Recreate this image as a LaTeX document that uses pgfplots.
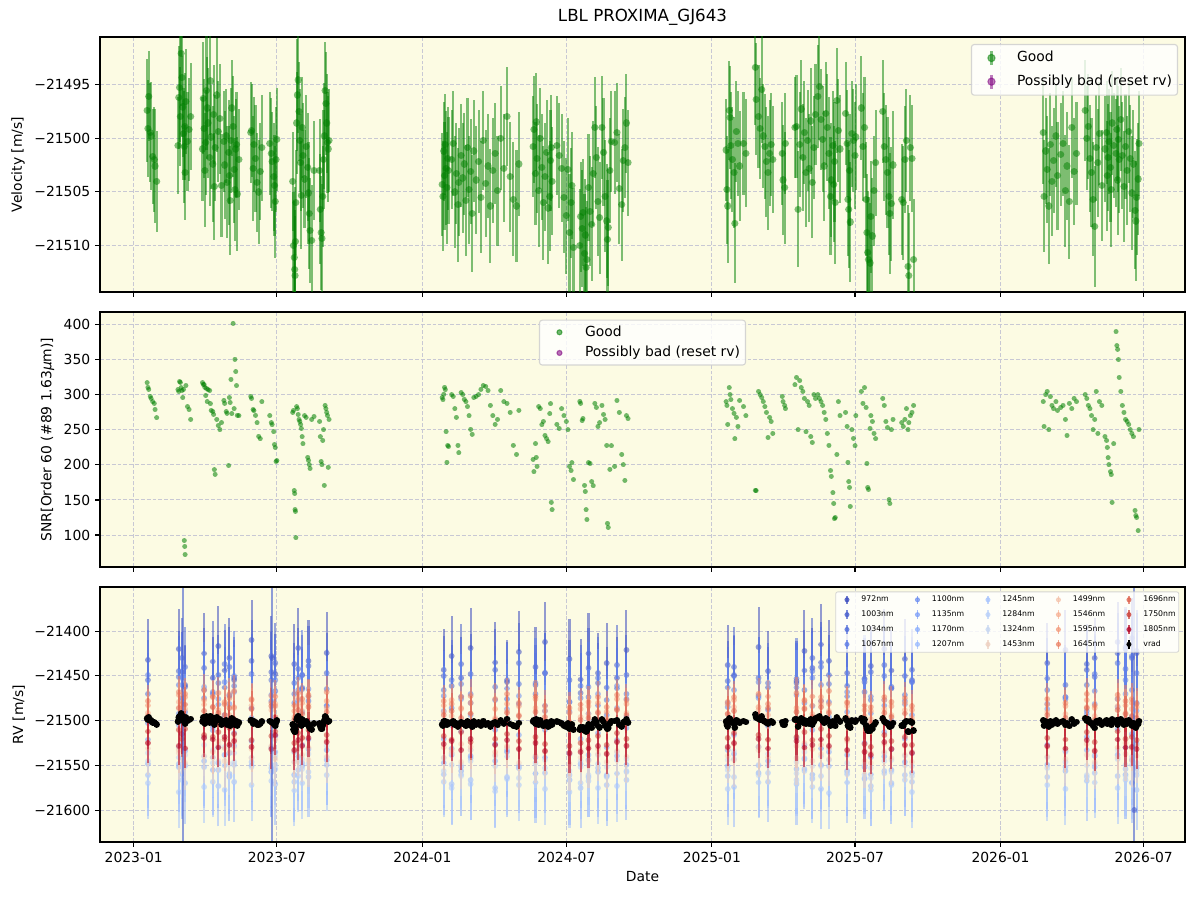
\documentclass[border=0pt]{standalone}
\usepackage{pgfplots}
\pgfplotsset{compat=1.18}
\usepackage{pgfplotstable}
\usepackage{fontspec}
\setmainfont{DejaVu Sans}

\definecolor{bgyel}{RGB}{252,251,227}
\definecolor{gridc}{RGB}{200,200,212}
\definecolor{good}{RGB}{0,128,0}
\definecolor{bad}{RGB}{128,0,128}
\definecolor{legframe}{RGB}{204,204,204}
% coolwarm, sampled by wavelength between 972 nm and 1805 nm
\definecolor{c972}{HTML}{3B4CC0}
\definecolor{c1003}{HTML}{465DCE}
\definecolor{c1034}{HTML}{516DDB}
\definecolor{c1067}{HTML}{5E7DE7}
\definecolor{c1100}{HTML}{6B8DF1}
\definecolor{c1135}{HTML}{7A9DF8}
\definecolor{c1170}{HTML}{89ACFD}
\definecolor{c1207}{HTML}{98B9FF}
\definecolor{c1245}{HTML}{A8C5FE}
\definecolor{c1284}{HTML}{B8D0F9}
\definecolor{c1324}{HTML}{C7D7F1}
\definecolor{c1453}{HTML}{EED0C0}
\definecolor{c1499}{HTML}{F5C2AA}
\definecolor{c1546}{HTML}{F7B093}
\definecolor{c1595}{HTML}{F49A7B}
\definecolor{c1645}{HTML}{EC8165}
\definecolor{c1696}{HTML}{DF634F}
\definecolor{c1750}{HTML}{CC4039}
\definecolor{c1805}{HTML}{B40426}

% light-weight round marker: a round-capped stroke of zero extent
\pgfdeclareplotmark{rdot}{%
  \pgfsetroundcap
  \pgfsetlinewidth{2\pgfplotmarksize}%
  \pgfpathmoveto{\pgfpointorigin}%
  \pgfpathlineto{\pgfpoint{0.01pt}{0pt}}%
  \pgfusepathqstroke}
% lower panel: 183.6pt tall for 284.6 m/s, so pt per m/s
\pgfmathsetmacro{\ppm}{183.6/284.6}
\def\ebh{0}
% dot with its symmetric error bar (half length \ebh pt) in one marker
\pgfdeclareplotmark{ebdot}{%
  \pgfsetbuttcap
  \pgfsetlinewidth{1.5pt}%
  \pgfpathmoveto{\pgfpoint{0pt}{-\ebh pt}}%
  \pgfpathlineto{\pgfpoint{0pt}{\ebh pt}}%
  \pgfusepathqstroke
  \pgfsetroundcap
  \pgfsetlinewidth{2\pgfplotmarksize}%
  \pgfpathmoveto{\pgfpointorigin}%
  \pgfpathlineto{\pgfpoint{0.01pt}{0pt}}%
  \pgfusepathqstroke}

% t = days since 2023-01-01; v = velocity [m/s]; e = uncertainty; snr = SNR of order 60
\pgfplotstableread{
t v e snr
17 -21497.4 4.8 317
18 -21499.1 4.5 311
19 -21496.1 4.2 308
21 -21499.5 4.6 298
22 -21499.8 5.0 295
24 -21501.7 4.4 290
26 -21502.0 4.9 288
27 -21502.6 5.3 279
29 -21504.0 4.7 267
56 -21500.7 4.5 307
57 -21496.2 4.8 305
58 -21495.3 5.1 319
59 -21498.0 4.6 318
60 -21492.1 4.9 310
61 -21494.4 5.5 306
62 -21497.1 4.7 296
63 -21499.6 4.3 308
64 -21500.8 5.2 92
64.5 -21498.9 5.0 84
65 -21503.2 4.4 72
66 -21496.6 4.9 313
68 -21500.3 4.6 283
70 -21499.2 4.8 279
72 -21498.0 5.0 265
87 -21501.0 4.8 317
88 -21496.3 5.2 315
89 -21499.1 4.6 314
90 -21503.0 5.3 311
91 -21500.4 4.9 299
92 -21495.6 5.5 309
93 -21497.2 4.7 290
94 -21498.6 5.1 307
96 -21501.8 4.5 306
97 -21494.7 5.0 287
98 -21499.9 4.8 278
100 -21502.4 5.4 276
101 -21497.8 4.6 272
102 -21504.5 5.0 193
103 -21500.9 4.9 187
105 -21496.0 5.3 265
107 -21499.4 4.7 256
109 -21498.2 5.1 250
111 -21504.4 4.8 260
114 -21500.3 4.7 292
115 -21502.5 5.0 288
117 -21499.8 4.4 276
118 -21504.1 5.2 274
120 -21501.3 4.8 199
121 -21503.5 4.6 296
122 -21505.8 5.1 289
123 -21500.2 4.9 322
124 -21497.2 4.5 273
125.7 -21498.9 4.7 402
127 -21502.9 5.0 280
128 -21504.8 4.8 351
129 -21501.0 4.6 333
130 -21500.6 4.9 313
131 -21505.2 5.3 271
133 -21502.0 4.7 270
148 -21499.5 4.7 298
149 -21499.3 4.3 295
151 -21502.8 4.9 279
152 -21500.6 4.4 277
154 -21501.9 5.0 271
156 -21504.1 4.6 260
158 -21505.0 4.8 241
160 -21503.1 4.5 237
162 -21500.9 4.9 290
172 -21500.5 4.8 270
174 -21501.4 5.1 260
175 -21502.2 4.6 257
177 -21503.6 5.0 247
178 -21504.4 4.7 229
179 -21505.9 5.2 225
180 -21502.0 4.9 205
181 -21500.1 4.8 206
201 -21504.0 4.6 275
202 -21510.0 5.0 278
203 -21511.1 5.3 163
203.5 -21512.2 5.5 159
204 -21512.8 5.6 136
204.5 -21509.6 5.1 134
205 -21506.0 4.9 96
206 -21498.6 4.7 283
207 -21496.0 5.2 280
208 -21494.6 4.9 272
209 -21497.5 4.6 265
210 -21500.2 4.8 262
211 -21502.3 4.5 258
212 -21505.3 5.0 252
213 -21499.0 4.7 240
214 -21501.6 4.9 230
216 -21503.8 4.6 270
218 -21500.8 4.8 268
220 -21502.7 5.0 211
221 -21505.1 4.7 207
222 -21507.0 5.2 200
223 -21508.6 4.9 195
225 -21509.5 5.1 265
228 -21503.0 4.6 269
235 -21503.0 4.8 262
236 -21506.6 5.1 240
237 -21508.8 5.3 205
238 -21509.3 5.0 200
239 -21505.4 4.7 235
240 -21502.0 4.6 250
241 -21499.8 4.9 171
242 -21495.6 4.5 285
243 -21496.8 4.8 280
244 -21498.6 4.6 275
245 -21500.4 4.7 270
246 -21501.0 4.9 197
247 -21500.2 4.8 265
390 -21504.3 4.8 296
391 -21505.4 5.1 293
392 -21501.2 4.6 301
393 -21503.5 5.0 311
394 -21500.6 4.7 307
395 -21502.8 5.3 247
396 -21504.6 5.2 204
397 -21501.9 4.8 228
398 -21503.0 5.0 226
402 -21502.0 4.6 300
404 -21500.5 4.9 298
406 -21505.0 5.2 280
408 -21503.3 4.7 268
410 -21506.2 5.3 228
411 -21504.1 5.0 217
414 -21501.6 4.8 303
416 -21503.7 5.1 300
418 -21502.4 4.7 294
420 -21505.8 5.2 290
422 -21500.9 4.6 283
424 -21504.8 5.0 270
426 -21503.1 4.9 251
428 -21507.0 5.4 244
430 -21501.2 4.7 296
433 -21503.9 5.0 298
436 -21502.2 4.8 300
439 -21505.5 5.2 308
442 -21500.2 4.6 313
445 -21504.2 5.0 312
448 -21502.6 4.8 306
451 -21506.3 5.3 285
454 -21503.0 4.9 270
457 -21501.4 4.7 258
460 -21504.9 5.1 265
464 -21500.0 4.8 306
468 -21502.8 5.0 290
472 -21498.0 4.6 288
476 -21503.6 5.1 275
480 -21505.7 5.3 228
484 -21506.3 5.2 215
487 -21502.4 4.8 278
505 -21500.8 4.7 208
506 -21499.2 5.0 190
508 -21503.3 4.8 230
509 -21498.5 4.6 211
510 -21501.9 5.1 198
512 -21504.9 5.2 283
514 -21500.0 4.7 280
516 -21502.7 4.9 257
518 -21506.0 5.3 262
520 -21503.6 5.0 242
522 -21501.3 4.8 237
524 -21506.5 5.2 233
526 -21505.4 5.1 273
527 -21502.1 4.7 287
528 -21500.9 4.9 147
529 -21504.0 5.0 136
535 -21500.7 4.6 258
538 -21501.6 4.9 252
541 -21502.8 5.0 280
544 -21505.5 5.2 270
547 -21507.2 5.4 262
549 -21502.9 4.8 250
551 -21508.8 5.5 198
553 -21506.0 5.1 192
554 -21504.4 5.0 203
556 -21510.2 5.6 179
564 -21510.0 5.3 291
565 -21507.3 5.1 288
567 -21508.4 5.4 263
568 -21506.9 5.0 266
570 -21510.7 5.5 171
571 -21509.0 5.2 162
572 -21512.0 5.6 136
573 -21511.3 5.5 122
575 -21504.6 5.0 203
577 -21506.8 5.1 202
579 -21508.0 5.3 176
581 -21503.3 4.9 170
583 -21499.0 4.7 288
585 -21501.8 4.8 282
587 -21505.9 5.1 255
589 -21507.4 5.2 260
592 -21499.0 4.8 285
594 -21501.3 5.0 272
596 -21505.4 5.2 265
598 -21507.7 5.3 228
599 -21509.4 5.5 117
600 -21508.3 5.4 111
602 -21503.0 4.9 194
604 -21500.3 4.7 227
608 -21500.4 4.8 198
611 -21499.5 4.6 292
614 -21504.7 5.1 275
617 -21506.2 5.2 215
619 -21502.1 4.8 200
621 -21500.9 4.7 178
623 -21498.6 4.6 270
625 -21502.3 4.9 266
749 -21501.1 4.7 290
750 -21504.8 5.0 285
751 -21506.3 5.3 258
753 -21497.4 4.6 310
754 -21498.1 4.8 300
755 -21500.7 5.0 293
757 -21502.0 4.9 280
759 -21503.2 5.2 274
760 -21507.9 5.6 237
762 -21499.4 4.7 268
764 -21500.5 4.9 255
766 -21502.6 5.1 292
771 -21500.5 4.8 283
774 -21501.4 5.0 270
786 -21493.4 5.4 164
787 -21496.4 5.2 163
790 -21498.0 4.8 305
792 -21499.1 4.7 300
794 -21495.5 5.0 296
796 -21499.8 4.8 290
798 -21500.8 4.9 283
800 -21502.2 5.1 275
802 -21503.2 5.3 239
804 -21501.4 4.9 268
806 -21500.6 4.8 262
808 -21502.0 5.0 245
820 -21501.4 4.8 298
821 -21503.9 5.1 290
823 -21504.6 5.2 285
824 -21500.5 4.7 280
836 -21499.0 4.7 314
838 -21498.9 4.8 325
840 -21506.6 5.4 250
842 -21500.6 4.9 320
844 -21497.3 4.6 310
846 -21501.8 5.0 305
848 -21499.5 4.8 295
850 -21503.2 5.1 247
852 -21500.2 4.7 290
854 -21502.8 5.0 285
856 -21498.4 4.9 240
858 -21504.1 5.2 232
860 -21500.9 4.8 300
862 -21497.8 4.7 295
865 -21496.1 4.8 300
867 -21495.2 5.0 295
869 -21498.3 4.7 290
871 -21500.1 4.9 285
873 -21502.6 5.1 275
875 -21497.7 4.8 265
877 -21499.0 5.0 245
879 -21501.4 5.2 228
881 -21505.4 5.5 192
882 -21503.9 5.3 184
884 -21500.7 5.1 160
885 -21504.3 5.4 145
886 -21502.2 5.6 123
887 -21506.0 5.7 125
889 -21496.5 4.9 215
891 -21499.3 4.8 290
893 -21501.0 5.0 270
900 -21497.7 4.8 275
902 -21500.5 5.0 255
903 -21505.7 5.3 204
904 -21506.6 5.5 176
905 -21503.0 5.2 168
906 -21507.8 5.6 141
908 -21499.6 4.9 250
910 -21500.2 4.8 238
912 -21501.6 5.0 227
913 -21499.9 4.9 270
920 -21497.2 4.8 305
922 -21500.8 5.0 288
924 -21499.0 4.7 310
926 -21505.7 5.3 282
927 -21508.8 5.5 202
928 -21510.6 5.7 168
929 -21511.3 5.8 165
931 -21511.6 5.6 252
932 -21507.3 5.2 270
934 -21509.1 5.4 262
936 -21504.9 5.1 245
938 -21502.3 4.9 237
947 -21497.5 4.8 295
949 -21500.8 5.0 285
951 -21502.0 5.1 262
953 -21503.2 5.2 253
955 -21505.4 5.5 150
956 -21507.0 5.6 145
958 -21506.1 5.3 250
960 -21502.5 5.0 265
971 -21505.7 5.2 260
973 -21506.0 5.3 255
975 -21502.0 5.0 265
977 -21500.2 4.8 280
979 -21511.9 5.7 250
980 -21512.8 5.8 260
982 -21500.9 4.9 270
984 -21501.9 5.0 275
986 -21511.3 5.6 285
1150 -21499.5 4.8 290
1151 -21505.4 5.2 255
1153 -21501.2 4.9 300
1155 -21502.9 5.0 305
1157 -21506.3 5.4 250
1159 -21500.6 4.8 297
1161 -21504.0 5.1 285
1163 -21502.1 4.9 280
1166 -21499.8 4.7 290
1168 -21503.5 5.0 278
1172 -21501.5 4.8 282
1175 -21500.5 4.9 285
1178 -21504.9 5.2 265
1180 -21502.6 5.0 242
1183 -21505.9 5.3 288
1186 -21499.0 4.7 280
1189 -21503.1 5.0 295
1192 -21501.4 4.8 290
1203 -21497.4 4.7 300
1205 -21500.0 4.8 295
1207 -21498.9 4.9 285
1209 -21501.9 5.0 280
1211 -21503.2 5.1 270
1213 -21505.7 5.3 250
1215 -21508.2 5.6 265
1217 -21500.9 4.9 305
1219 -21502.3 5.0 245
1221 -21499.6 4.8 290
1224 -21504.4 5.2 285
1228 -21501.0 4.9 240
1230 -21499.5 4.8 235
1231 -21503.5 5.1 225
1232 -21501.8 5.0 210
1233 -21500.3 4.9 200
1235 -21502.7 5.1 190
1236 -21504.8 5.3 186
1237 -21498.6 4.8 147
1239 -21500.7 4.9 230
1242 -21501.4 5.0 390
1243 -21499.2 4.8 370
1244 -21503.9 5.1 365
1245 -21500.1 4.9 350
1246 -21502.0 5.0 325
1248 -21498.3 4.8 305
1250 -21501.6 5.0 285
1252 -21504.5 5.2 275
1254 -21500.8 4.9 265
1256 -21503.0 5.1 262
1258 -21499.4 4.8 258
1260 -21501.9 5.0 250
1262 -21505.1 5.3 245
1264 -21502.4 5.0 240
1266 -21506.7 5.5 135
1267 -21507.7 5.6 128
1268 -21505.5 5.4 125
1270 -21503.8 5.2 106
1271 -21500.5 4.9 250
}\vtab

% per-wavelength velocities [m/s]
\pgfplotstableread{
t w972 w1003 w1034 w1067 w1100 w1135 w1170 w1207 w1245 w1284 w1324 w1453 w1499 w1546 w1595 w1645 w1696 w1750 w1805
18 -21432 -21455 -21470 -21449 -21503 -21521 -21548 -21561 -21570 -21545 -21536 -21531 -21525 -21491 -21483 -21478 -21495 -21512 -21525
57 -21420 -21445 -21451 -21460 -21492 -21505 -21552 -21548 -21580 -21541 -21530 -21536 -21533 -21479 -21471 -21468 -21486 -21510 -21528
61 -21446 -21430 -21475 -21452 -21478 -21526 -21560 -21542 -21566 -21558 -21551 -21529 -21522 -21495 -21486 -21481 -21493 -21520 -21515
65 -21460 -21462 -21440 -21490 -21500 -21498 -21534 -21570 -21551 -21549 -21538 -21547 -21530 -21487 -21474 -21470 -21482 -21509 -21531
89 -21425 -21441 -21466 -21475 -21462 -21518 -21545 -21552 -21574 -21540 -21527 -21539 -21518 -21482 -21477 -21466 -21489 -21516 -21519
100 -21452 -21434 -21470 -21468 -21507 -21511 -21555 -21541 -21568 -21547 -21533 -21541 -21535 -21485 -21473 -21474 -21485 -21518 -21521
107 -21417 -21449 -21458 -21482 -21476 -21529 -21547 -21573 -21555 -21555 -21545 -21527 -21523 -21493 -21488 -21469 -21491 -21513 -21530
115 -21444 -21463 -21437 -21457 -21494 -21502 -21538 -21550 -21577 -21538 -21529 -21545 -21531 -21480 -21479 -21482 -21494 -21521 -21518
121 -21430 -21440 -21472 -21471 -21481 -21536 -21562 -21559 -21563 -21561 -21548 -21535 -21526 -21494 -21470 -21475 -21486 -21508 -21527
127 -21455 -21452 -21461 -21450 -21468 -21514 -21528 -21568 -21549 -21546 -21536 -21530 -21520 -21486 -21485 -21467 -21498 -21515 -21523
149 -21410 -21433 -21448 -21486 -21497 -21523 -21550 -21546 -21572 -21552 -21541 -21542 -21532 -21483 -21476 -21477 -21487 -21522 -21529
174 -21428 -21446 -21455 -21478 -21471 -21530 -21557 -21553 -21567 -21557 -21549 -21528 -21529 -21488 -21472 -21480 -21484 -21517 -21532
179 -21448 -21436 -21467 -21455 -21499 -21517 -21535 -21571 -21554 -21549 -21539 -21543 -21521 -21481 -21484 -21473 -21496 -21512 -21516
203 -21437 -21458 -21470 -21480 -21506 -21535 -21561 -21568 -21578 -21560 -21546 -21546 -21534 -21496 -21489 -21483 -21499 -21525 -21533
208 -21419 -21442 -21452 -21466 -21477 -21504 -21540 -21555 -21562 -21544 -21531 -21532 -21525 -21484 -21475 -21469 -21488 -21514 -21522
213 -21449 -21465 -21463 -21449 -21490 -21527 -21551 -21547 -21570 -21554 -21543 -21538 -21519 -21489 -21480 -21476 -21493 -21519 -21528
221 -21433 -21439 -21478 -21473 -21465 -21521 -21532 -21563 -21557 -21548 -21537 -21544 -21530 -21482 -21473 -21471 -21485 -21510 -21519
244 -21424 -21447 -21465 -21484 -21483 -21533 -21544 -21549 -21561 -21541 -21528 -21540 -21522 -21486 -21478 -21468 -21490 -21516 -21524
392 -21443 -21450 -21466 -21472 -21489 -21520 -21547 -21560 -21568 -21556 -21542 -21541 -21530 -21490 -21483 -21478 -21494 -21517 -21526
402 -21428 -21461 -21455 -21486 -21505 -21531 -21538 -21571 -21575 -21549 -21536 -21536 -21533 -21495 -21477 -21481 -21489 -21521 -21523
414 -21452 -21437 -21473 -21459 -21476 -21512 -21556 -21552 -21560 -21562 -21549 -21546 -21526 -21487 -21486 -21474 -21497 -21513 -21533
426 -21419 -21448 -21480 -21470 -21494 -21539 -21542 -21566 -21571 -21545 -21533 -21533 -21529 -21492 -21480 -21472 -21492 -21524 -21520
457 -21435 -21443 -21462 -21477 -21510 -21526 -21545 -21575 -21579 -21551 -21539 -21538 -21535 -21497 -21487 -21476 -21499 -21520 -21527
472 -21457 -21455 -21476 -21464 -21487 -21535 -21533 -21563 -21565 -21540 -21530 -21530 -21528 -21489 -21481 -21470 -21491 -21515 -21522
487 -21423 -21436 -21459 -21481 -21472 -21516 -21553 -21551 -21572 -21564 -21553 -21547 -21531 -21494 -21484 -21480 -21495 -21523 -21532
508 -21440 -21460 -21470 -21458 -21498 -21541 -21559 -21569 -21559 -21547 -21540 -21539 -21523 -21486 -21476 -21473 -21490 -21518 -21525
520 -21412 -21447 -21447 -21489 -21483 -21510 -21541 -21558 -21576 -21553 -21544 -21535 -21534 -21499 -21489 -21484 -21496 -21526 -21534
551 -21431 -21455 -21479 -21490 -21479 -21537 -21566 -21561 -21580 -21566 -21556 -21548 -21537 -21501 -21491 -21486 -21502 -21528 -21536
565 -21454 -21469 -21461 -21475 -21508 -21520 -21548 -21575 -21570 -21552 -21545 -21541 -21533 -21496 -21487 -21482 -21499 -21525 -21535
575 -21425 -21441 -21474 -21462 -21492 -21544 -21538 -21563 -21567 -21561 -21550 -21545 -21529 -21493 -21484 -21479 -21497 -21522 -21531
587 -21447 -21458 -21452 -21483 -21470 -21514 -21557 -21553 -21575 -21548 -21538 -21537 -21532 -21490 -21480 -21474 -21491 -21517 -21528
598 -21436 -21463 -21477 -21494 -21503 -21530 -21562 -21572 -21561 -21563 -21552 -21546 -21536 -21498 -21490 -21485 -21500 -21527 -21537
611 -21452 -21438 -21464 -21461 -21486 -21522 -21539 -21559 -21573 -21544 -21535 -21534 -21523 -21487 -21476 -21471 -21488 -21514 -21524
623 -21421 -21449 -21470 -21476 -21496 -21508 -21549 -21566 -21557 -21556 -21543 -21540 -21527 -21491 -21481 -21477 -21494 -21520 -21528
751 -21438 -21456 -21463 -21485 -21480 -21533 -21551 -21562 -21576 -21555 -21544 -21539 -21531 -21492 -21482 -21479 -21493 -21519 -21529
759 -21450 -21440 -21449 -21466 -21499 -21516 -21537 -21574 -21563 -21543 -21534 -21544 -21526 -21485 -21477 -21474 -21489 -21514 -21525
790 -21418 -21452 -21472 -21457 -21475 -21529 -21558 -21550 -21569 -21561 -21549 -21533 -21529 -21488 -21485 -21470 -21495 -21516 -21520
802 -21445 -21463 -21458 -21488 -21506 -21504 -21545 -21568 -21558 -21550 -21537 -21541 -21522 -21494 -21473 -21481 -21486 -21521 -21531
838 -21456 -21458 -21453 -21463 -21471 -21519 -21554 -21571 -21566 -21559 -21546 -21542 -21528 -21490 -21486 -21469 -21490 -21518 -21523
848 -21422 -21444 -21466 -21480 -21501 -21527 -21543 -21554 -21556 -21542 -21535 -21531 -21525 -21486 -21478 -21477 -21487 -21513 -21530
858 -21441 -21430 -21445 -21452 -21484 -21510 -21560 -21565 -21574 -21563 -21551 -21545 -21532 -21493 -21483 -21473 -21496 -21522 -21527
869 -21415 -21435 -21440 -21460 -21478 -21531 -21549 -21576 -21562 -21551 -21540 -21537 -21527 -21481 -21474 -21478 -21485 -21509 -21521
879 -21433 -21449 -21459 -21479 -21496 -21500 -21535 -21551 -21581 -21544 -21532 -21543 -21530 -21489 -21481 -21467 -21491 -21517 -21528
902 -21447 -21461 -21473 -21468 -21490 -21538 -21556 -21569 -21560 -21558 -21547 -21534 -21523 -21484 -21479 -21480 -21497 -21520 -21533
924 -21453 -21457 -21468 -21454 -21503 -21525 -21552 -21565 -21564 -21560 -21549 -21545 -21534 -21495 -21488 -21483 -21501 -21526 -21535
932 -21439 -21446 -21477 -21473 -21492 -21541 -21560 -21573 -21577 -21564 -21553 -21547 -21536 -21498 -21489 -21485 -21503 -21529 -21538
949 -21420 -21438 -21450 -21483 -21477 -21513 -21540 -21556 -21559 -21545 -21536 -21535 -21526 -21487 -21477 -21474 -21491 -21516 -21524
958 -21444 -21462 -21464 -21464 -21500 -21532 -21555 -21570 -21572 -21557 -21544 -21542 -21531 -21494 -21484 -21479 -21496 -21523 -21532
975 -21431 -21450 -21471 -21478 -21482 -21520 -21546 -21561 -21566 -21550 -21539 -21538 -21528 -21488 -21480 -21475 -21492 -21518 -21527
984 -21455 -21443 -21457 -21457 -21494 -21536 -21558 -21568 -21580 -21562 -21551 -21546 -21535 -21497 -21488 -21484 -21500 -21527 -21536
1155 -21436 -21453 -21466 -21481 -21487 -21527 -21549 -21563 -21572 -21553 -21541 -21540 -21529 -21490 -21482 -21476 -21494 -21519 -21528
1178 -21421 -21460 -21474 -21476 -21474 -21534 -21556 -21552 -21576 -21546 -21535 -21543 -21532 -21493 -21484 -21480 -21497 -21521 -21531
1205 -21443 -21437 -21460 -21489 -21493 -21518 -21533 -21567 -21563 -21561 -21550 -21538 -21526 -21485 -21477 -21470 -21486 -21513 -21522
1215 -21430 -21451 -21448 -21467 -21481 -21539 -21552 -21558 -21569 -21548 -21538 -21546 -21533 -21495 -21486 -21483 -21499 -21524 -21534
1244 -21412 -21425 -21436 -21476 -21485 -21509 -21538 -21562 -21575 -21543 -21533 -21541 -21530 -21484 -21476 -21471 -21488 -21512 -21521
1254 -21420 -21418 -21442 -21455 -21470 -21530 -21560 -21554 -21566 -21562 -21549 -21537 -21525 -21491 -21483 -21478 -21493 -21520 -21530
1262 -21408 -21430 -21428 -21466 -21496 -21515 -21544 -21569 -21570 -21549 -21540 -21544 -21531 -21487 -21480 -21476 -21495 -21518 -21529
1268 -21425 -21422 -21447 -21480 -21489 -21526 -21553 -21577 -21561 -21557 -21547 -21539 -21528 -21493 -21485 -21481 -21497 -21522 -21532
}\wtab

% points with very large uncertainties
\pgfplotstableread{
t v e
62 -21500 160
175 -21430 230
1265 -21600 260
}\wide

\pgfplotsset{
  panel/.style={
    scale only axis, width=781.2pt, height=183.6pt,
    xmin=-42.6, xmax=1329.2,
    axis background/.style={fill=bgyel},
    xtick={0,181,365,547,731,912,1096,1277},
    scaled y ticks=false,
    /pgf/number format/assume math mode=true,
    grid=major,
    major grid style={gridc, line width=0.7pt, dash pattern=on 2.8pt off 1.4pt},
    tick align=outside, tick pos=left, major tick length=3.5pt,
    every tick/.style={black, line width=0.8pt},
    axis line style={line width=0.8pt},
    tick label style={font=\fontsize{10}{12}\selectfont},
    label style={font=\fontsize{10}{12}\selectfont},
    legend cell align=left,
  },
  % transparent layer sharing the limits of the lower panel
  layer/.style={
    scale only axis, width=781.2pt, height=183.6pt,
    xmin=-42.6, xmax=1329.2, ymin=-21635.4, ymax=-21350.8,
    at={(72pt,41.76pt)}, anchor=south west, hide axis, clip marker paths=true},
  bigleg/.style={legend style={
    draw=legframe, line width=0.8pt, fill=white, fill opacity=0.8,
    draw opacity=0.8, text opacity=1, rounded corners=2pt,
    font=\fontsize{10}{12}\selectfont, inner xsep=4pt, inner ysep=4pt,
    row sep=5.5pt, nodes={inner sep=0pt, text height=7.4pt, text depth=2pt},
    /tikz/every odd column/.style={column sep=8pt}}},
  errimg/.style={legend image code/.code={%
    \path (0pt,-5pt) (20pt,5pt);
    \draw[#1, opacity=0.5, line width=1.5pt] (10pt,-5pt) -- (10pt,5pt);
    \fill[#1, opacity=0.5] (10pt,0pt) circle (2.6pt);}},
  dotimg/.style={legend image code/.code={%
    \path (0pt,-3pt) (20pt,3pt);
    \fill[#1, opacity=0.55] (10pt,0pt) circle (1.8pt);}},
  smallimg/.style 2 args={legend image code/.code={%
    \path (0pt,-3.2pt) (11.2pt,3.2pt);
    \draw[#1, opacity=#2, line width=0.8pt] (5.6pt,-3pt) -- (5.6pt,3pt);
    \fill[#1, opacity=#2] (5.6pt,0pt) circle (1.5pt);}},
  % one wavelength: colour, uncertainty in m/s
  wl/.style 2 args={forget plot, only marks, mark=ebdot, mark size=2.1pt, color=#1,
    draw opacity=0.55, /utils/exec={\pgfmathsetmacro{\ebh}{#2*\ppm}}},
}

\begin{document}
\begin{tikzpicture}
% velocity
\begin{axis}[panel, at={(72pt,437.76pt)}, anchor=south west,
  ymin=-21514.3, ymax=-21490.6,
  ytick={-21510,-21505,-21500,-21495},
  yticklabels={−21510,−21505,−21500,−21495},
  xticklabels={},
  ylabel={Velocity [m/s]},
  title={LBL PROXIMA\_GJ643},
  title style={font=\fontsize{12}{14.4}\selectfont, yshift=-1pt},
  bigleg,
  legend style={at={(1,1)}, xshift=-5pt, yshift=-5pt, anchor=north east}]
\addplot[forget plot, only marks, mark=rdot, mark size=2.6pt, good,
  draw opacity=0.5,
  error bars/.cd, y dir=both, y explicit, error mark=none,
  error bar style={line width=1.5pt}]
  table[x=t, y=v, y error=e]{\vtab};
\addlegendimage{errimg=good}\addlegendentry{Good}
\addlegendimage{errimg=bad}\addlegendentry{Possibly bad (reset rv)}
\end{axis}

% signal to noise
\begin{axis}[panel, at={(72pt,239.76pt)}, anchor=south west,
  ymin=54.4, ymax=418.1,
  ytick={100,150,200,250,300,350,400},
  xticklabels={},
  ylabel={SNR[Order 60 (\#89 1.63{\itshape μ}m)]},
  bigleg,
  legend style={at={(0.5,1)}, yshift=-5.5pt, anchor=north}]
\addplot[forget plot, only marks, mark=rdot, mark size=1.8pt, good,
  draw opacity=0.55]
  table[x=t, y=snr]{\vtab};
\addlegendimage{dotimg=good}\addlegendentry{Good}
\addlegendimage{dotimg=bad}\addlegendentry{Possibly bad (reset rv)}
\end{axis}

% per-wavelength velocities: background, grid and the bluest orders
\begin{axis}[panel, at={(72pt,41.76pt)}, anchor=south west,
  ymin=-21635.4, ymax=-21350.8, clip marker paths=true,
  ytick={-21600,-21550,-21500,-21450,-21400},
  xticklabels={}, yticklabels={}, major tick length=0pt,
  axis line style={draw=none}]
\addplot[wl={c972}{45}] table[x=t, y=w972]{\wtab};
\addplot[wl={c1003}{45}] table[x=t, y=w1003]{\wtab};
\addplot[wl={c1034}{45}] table[x=t, y=w1034]{\wtab};
\addplot[wl={c1067}{50}] table[x=t, y=w1067]{\wtab};
\addplot[wl={c1100}{50}] table[x=t, y=w1100]{\wtab};
\addplot[wl={c1135}{50}] table[x=t, y=w1135]{\wtab};
\end{axis}
\begin{axis}[layer]
\addplot[wl={c1170}{50}] table[x=t, y=w1170]{\wtab};
\addplot[wl={c1207}{45}] table[x=t, y=w1207]{\wtab};
\addplot[wl={c1245}{40}] table[x=t, y=w1245]{\wtab};
\addplot[wl={c1284}{38}] table[x=t, y=w1284]{\wtab};
\addplot[wl={c1324}{35}] table[x=t, y=w1324]{\wtab};
\addplot[wl={c1453}{30}] table[x=t, y=w1453]{\wtab};
\end{axis}
\begin{axis}[layer]
\addplot[wl={c1499}{25}] table[x=t, y=w1499]{\wtab};
\addplot[wl={c1546}{20}] table[x=t, y=w1546]{\wtab};
\addplot[wl={c1595}{18}] table[x=t, y=w1595]{\wtab};
\addplot[wl={c1645}{18}] table[x=t, y=w1645]{\wtab};
\addplot[wl={c1696}{20}] table[x=t, y=w1696]{\wtab};
\addplot[wl={c1750}{20}] table[x=t, y=w1750]{\wtab};
\addplot[wl={c1805}{22}] table[x=t, y=w1805]{\wtab};
\addplot[forget plot, only marks, mark=rdot, mark size=2.1pt, c1003,
  draw opacity=0.6,
  error bars/.cd, y dir=both, y explicit, error mark=none,
  error bar style={line width=1.5pt}]
  table[x=t, y=v, y error=e]{\wide};
\end{axis}
% combined velocity on top, with frame, ticks, labels and legend
\begin{axis}[panel, at={(72pt,41.76pt)}, anchor=south west,
  axis background/.style={}, grid=none,
  ymin=-21635.4, ymax=-21350.8,
  ytick={-21600,-21550,-21500,-21450,-21400},
  yticklabels={−21600,−21550,−21500,−21450,−21400},
  xticklabels={2023-01,2023-07,2024-01,2024-07,2025-01,2025-07,2026-01,2026-07},
  xlabel={Date}, ylabel={RV [m/s]},
  legend columns=4, transpose legend,
  legend style={at={(1,1)}, xshift=-4.2pt, yshift=-3.2pt, anchor=north east,
    draw=legframe, line width=0.6pt, fill=white, fill opacity=0.8,
    draw opacity=0.8, text opacity=1, rounded corners=1.5pt,
    font=\fontsize{5.6}{6.7}\selectfont, inner xsep=2.2pt, inner ysep=2.2pt,
    row sep=3.7pt, nodes={inner sep=0pt, text height=4.2pt, text depth=1.2pt},
    /tikz/every odd column/.style={column sep=4.5pt},
    /tikz/every even column/.style={column sep=11.2pt}}]
\addplot[forget plot, only marks, mark=rdot, mark size=2.4pt, black]
  table[x=t, y=v]{\vtab};
\addlegendimage{smallimg={c972}{0.7}}\addlegendentry{972nm}
\addlegendimage{smallimg={c1003}{0.7}}\addlegendentry{1003nm}
\addlegendimage{smallimg={c1034}{0.7}}\addlegendentry{1034nm}
\addlegendimage{smallimg={c1067}{0.7}}\addlegendentry{1067nm}
\addlegendimage{smallimg={c1100}{0.7}}\addlegendentry{1100nm}
\addlegendimage{smallimg={c1135}{0.7}}\addlegendentry{1135nm}
\addlegendimage{smallimg={c1170}{0.7}}\addlegendentry{1170nm}
\addlegendimage{smallimg={c1207}{0.7}}\addlegendentry{1207nm}
\addlegendimage{smallimg={c1245}{0.7}}\addlegendentry{1245nm}
\addlegendimage{smallimg={c1284}{0.7}}\addlegendentry{1284nm}
\addlegendimage{smallimg={c1324}{0.7}}\addlegendentry{1324nm}
\addlegendimage{smallimg={c1453}{0.7}}\addlegendentry{1453nm}
\addlegendimage{smallimg={c1499}{0.7}}\addlegendentry{1499nm}
\addlegendimage{smallimg={c1546}{0.7}}\addlegendentry{1546nm}
\addlegendimage{smallimg={c1595}{0.7}}\addlegendentry{1595nm}
\addlegendimage{smallimg={c1645}{0.7}}\addlegendentry{1645nm}
\addlegendimage{smallimg={c1696}{0.7}}\addlegendentry{1696nm}
\addlegendimage{smallimg={c1750}{0.7}}\addlegendentry{1750nm}
\addlegendimage{smallimg={c1805}{0.7}}\addlegendentry{1805nm}
\addlegendimage{smallimg={black}{1}}\addlegendentry{vrad}
\end{axis}
\pgfresetboundingbox
\path[use as bounding box] (0pt,0pt) rectangle (864pt,648pt);
\end{tikzpicture}
\end{document}
